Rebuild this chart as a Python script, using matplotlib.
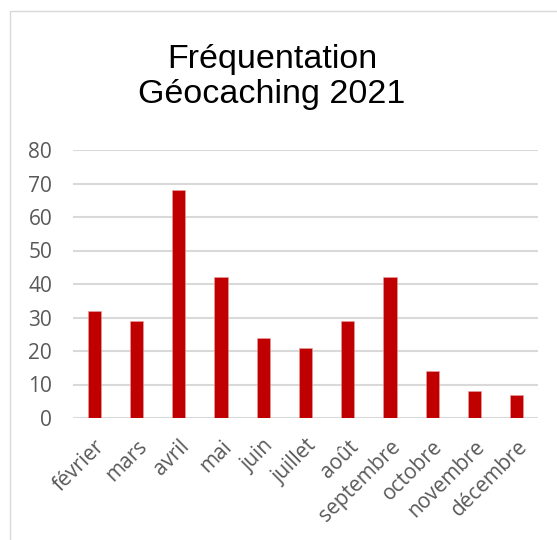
import matplotlib
matplotlib.use("Agg")
import matplotlib.pyplot as plt
from matplotlib.patches import Rectangle

months = ["février", "mars", "avril", "mai", "juin", "juillet", "août",
          "septembre", "octobre", "novembre", "décembre"]
visits = [32, 29, 68, 42, 24, 21, 29, 42, 14, 8, 7]
y_ticks = [0, 10, 20, 30, 40, 50, 60, 70, 80]

W, H = 557, 540
fig = plt.figure(figsize=(W / 100, H / 100), dpi=100)

# chart-area border, cropped on the right and bottom
fig.patches.append(Rectangle((10 / W, -0.1), 1.2, 1 - 11 / H + 0.1,
                             transform=fig.transFigure, fill=False,
                             edgecolor="#d9d9d9", linewidth=1.0))

ax = fig.add_axes([73 / W, 1 - 418 / H, (538 - 73) / W, (418 - 150) / H])
x = range(len(months))
ax.bar(x, visits, width=0.31, color="#C00000", edgecolor="#e8a0a0",
       linewidth=0.4, zorder=3)

ax.set_xlim(-0.5, len(months) - 0.5)
ax.set_ylim(0, 80)
ax.set_yticks(y_ticks)
ax.set_yticklabels([str(v) for v in y_ticks], fontfamily="Open Sans",
                   fontsize=15, color="#595959")
ax.set_xticks(list(x))
ax.set_xticklabels(months, rotation=45, ha="right", rotation_mode="anchor",
                   fontfamily="Open Sans", fontsize=15, color="#595959")
ax.tick_params(axis="both", length=0)
ax.tick_params(axis="y", pad=15)
ax.tick_params(axis="x", pad=13)

for s in ax.spines.values():
    s.set_visible(False)
ax.grid(axis="y", color="#d9d9d9", linewidth=1.5, zorder=0)
ax.set_axisbelow(True)

fig.text(272 / W, 1 - 77 / H, "Fréquentation\nGéocaching 2021",
         ha="center", va="center", fontfamily="Liberation Sans",
         fontsize=24.5, color="#000000", linespacing=1.2)

fig.savefig("out.png", dpi=100)
